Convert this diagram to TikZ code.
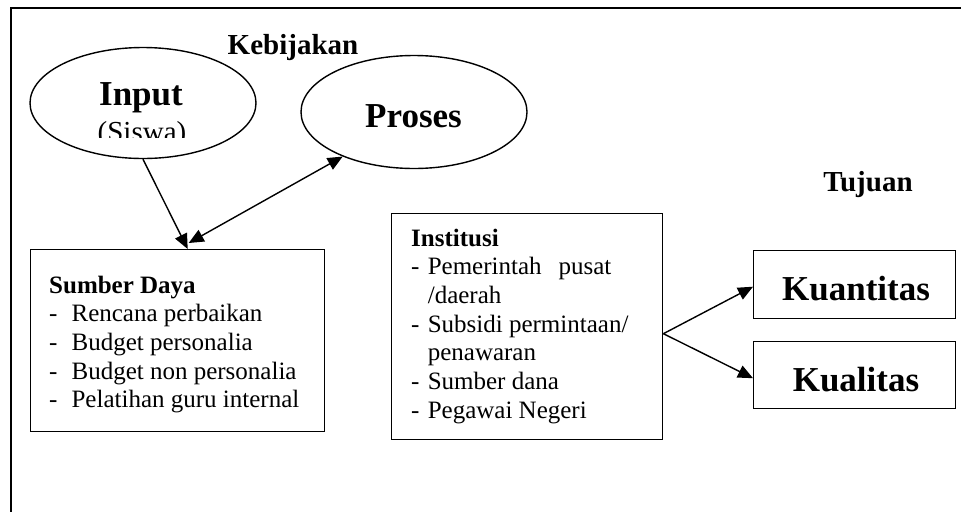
\documentclass[tikz,border=0pt]{standalone}
\usepackage{fontspec}
\setmainfont{Liberation Serif}
\usetikzlibrary{shapes.geometric,arrows.meta,calc}
\begin{document}
\begin{tikzpicture}[x=1pt,y=-1pt,
  oval/.style={draw,line width=1.4pt,ellipse,inner sep=0pt},
  box/.style={draw,line width=1.4pt,rectangle,inner sep=0pt,anchor=north west},
  tip/.style={Triangle[length=15pt,width=13pt]},
  arr/.style={line width=1.4pt,-{Triangle[length=15pt,width=13pt]}},
  darr/.style={line width=1.4pt,{Triangle[length=15pt,width=13pt]}-{Triangle[length=15pt,width=13pt]}},
  big/.style={font=\fontsize{35}{40}\selectfont\bfseries,inner sep=0pt,anchor=base},
  head/.style={font=\fontsize{29}{34}\selectfont\bfseries,inner sep=0pt,anchor=base},
  list/.style={font=\fontsize{25}{28.7}\selectfont,inner sep=0pt,anchor=base west}]
\useasboundingbox (0,0) rectangle (961,512);
% outer frame
\draw[line width=1.8pt] (961,8) -- (11,8) -- (11,512);
% ellipses
\node[oval,minimum width=226pt,minimum height=111pt] (inp) at (143,103) {};
\node[big] (inpt) at (141,105) {Input};
\begin{scope}
  \clip (60,110) rectangle (230,137);
  \node[font=\fontsize{29}{34}\selectfont,inner sep=0pt,anchor=base] (sis) at (142,141) {(Siswa)};
\end{scope}
\node[oval,minimum width=226pt,minimum height=113pt] (prc) at (414,112) {};
\node[big] (prct) at (413.5,127) {Proses};
% headings
\node[head] (keb) at (293,54) {Kebijakan};
\node[head] (tuj) at (868,191) {Tujuan};
% Sumber Daya
\node[box,minimum width=294pt,minimum height=182pt] (sd) at (30,249) {};
\node[list] (sdt) at (49,293) {\begin{tabular}[t]{@{}p{22.4pt}@{}l@{}}
\multicolumn{2}{@{}l@{}}{\bfseries Sumber Daya}\\
-&Rencana perbaikan\\
-&Budget personalia\\
-&Budget non personalia\\
-&Pelatihan guru internal
\end{tabular}};
% Institusi
\node[box,minimum width=271pt,minimum height=226pt] (ins) at (391,213) {};
\node[list] (inst) at (411,246) {\begin{tabular}[t]{@{}p{16.6pt}@{}l@{}}
\multicolumn{2}{@{}l@{}}{\bfseries Institusi}\\
-&Pemerintah\hspace{17pt}pusat\\
&/daerah\\
-&Subsidi permintaan/\\
&penawaran\\
-&Sumber dana\\
-&Pegawai Negeri
\end{tabular}};
% Tujuan boxes
\node[box,minimum width=202pt,minimum height=68pt] (kn) at (753,250) {};
\node[big] (knt) at (856,300) {Kuantitas};
\node[box,minimum width=202pt,minimum height=67pt] (kl) at (753,341) {};
\node[big] (klt) at (856,391) {Kualitas};
% connectors
\draw[arr] (inp.south) -- ([xshift=10pt]sd.north);
\draw[darr] ([xshift=11pt,yshift=6pt]sd.north) -- (prc.212);
\draw[arr] ([yshift=-7pt]ins.east) -- ([yshift=-2pt]kn.west);
\draw[arr] ([yshift=-7pt]ins.east) -- ([yshift=-3pt]kl.west);
\end{tikzpicture}
\end{document}
